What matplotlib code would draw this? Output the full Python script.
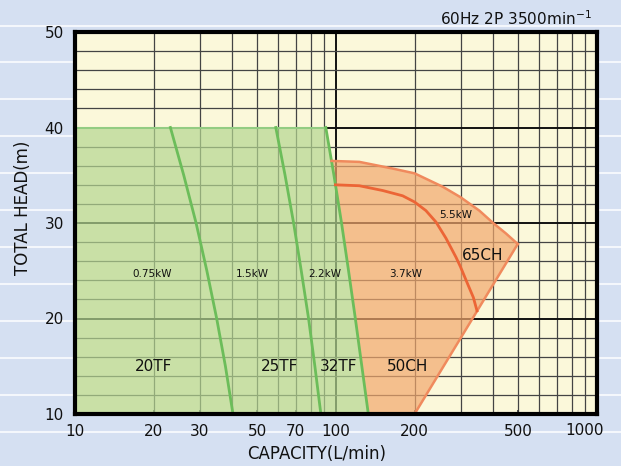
import matplotlib
matplotlib.use("Agg")
import matplotlib.pyplot as plt
from matplotlib.lines import Line2D
import numpy as np

# capacity (L/min) / total head (m)
# power boundary lines (TF series)
kw075_q = [23.2, 26.1, 29.1, 32.0, 34.9, 37.7, 40.3]
kw075_h = [40, 35, 30, 25, 20, 15, 10]
kw15_q = [58.8, 63.8, 68.8, 73.6, 78.5, 83.0, 87.5]
kw15_h = [40, 35, 30, 25, 20, 15, 10]
kw22_q = [91.4, 98.2, 105.0, 111.7, 118.6, 125.6, 133.0]
kw22_h = [40, 35, 30, 25, 20, 15, 10]

# CH series
kw55_q = [96.1, 122.9, 164.9, 200, 256.3, 300, 354, 400, 448, 497]
kw55_h = [36.5, 36.4, 35.7, 35.2, 33.8, 32.7, 31.3, 30.0, 28.9, 27.8]
ch_end_q = [497, 200]
ch_end_h = [27.8, 10]
kw37_q = [99.5, 122.9, 151, 180, 200, 221, 241.6, 263.9, 288.4, 300, 319.6, 336, 347]
kw37_h = [34.0, 33.9, 33.4, 32.85, 32.2, 31.3, 30.1, 28.4, 26.4, 25.4, 23.6, 22.2, 20.8]

tf_top_h = 40

xticks = [10, 20, 30, 50, 70, 100, 200, 500, 1000]
yticks = [10, 20, 30, 40, 50]

xgrid_minor = [20, 30, 40, 50, 60, 70, 80, 90, 200, 300, 400, 500, 600, 700, 800, 900]
xgrid_major = [100]
ygrid_minor = [12, 14, 16, 18, 22, 24, 26, 28, 32, 34, 36, 38, 42, 44, 46, 48]
ygrid_major = [20, 30, 40]

model_labels = ["20TF", "25TF", "32TF", "50CH", "65CH"]
model_pos = [(19.95, 15), (60.7, 15), (102, 15), (187.6, 15), (363.5, 26.6)]
kw_labels = ["0.75kW", "1.5kW", "2.2kW", "3.7kW", "5.5kW"]
kw_pos = [(19.8, 24.7), (48, 24.7), (90.8, 24.7), (184.3, 24.7), (287.4, 30.8)]

BG = "#d5e0f2"
fig = plt.figure(figsize=(6.21, 4.66), dpi=100, facecolor=BG)

# white stripes in the background
for k in range(12):
    yy = 1 - (25.5 + 36.95 * k) / 466
    fig.add_artist(Line2D([0, 1], [yy, yy], transform=fig.transFigure,
                          color="#f4f7fc", lw=1.5, zorder=0))

ax = fig.add_axes([75 / 621, 1 - 414 / 466, (597 - 75) / 621, (414 - 32) / 466])
ax.set_facecolor("#fbf8da")
ax.set_xscale("log")
ax.set_xlim(10, 1000)
ax.set_ylim(10, 50)

# grid
for v in xgrid_minor:
    ax.axvline(v, color="#444444", lw=0.9, zorder=1)
for v in xgrid_major:
    ax.axvline(v, color="#111111", lw=1.4, zorder=1)
for v in ygrid_minor:
    ax.axhline(v, color="#444444", lw=0.9, zorder=1)
for v in ygrid_major:
    ax.axhline(v, color="#111111", lw=1.4, zorder=1)

# green TF region
g_q = [10, 10] + kw22_q
g_h = [10, tf_top_h] + kw22_h
ax.fill(g_q, g_h, color="#b4d791", alpha=0.7, lw=0, zorder=2)
ax.plot([10, kw22_q[0]], [tf_top_h, tf_top_h], color="#93cc82", lw=1.5, zorder=3)

# orange CH region (left edge follows the 2.2kW line)
o_q = kw55_q + [ch_end_q[1]] + kw22_q[:0:-1]
o_h = kw55_h + [ch_end_h[1]] + kw22_h[:0:-1]
ax.fill(o_q, o_h, color="#f2a76d", alpha=0.7, lw=0, zorder=2)

green = "#6cbd5a"
ax.plot(kw075_q, kw075_h, color=green, lw=2, zorder=3)
ax.plot(kw15_q, kw15_h, color=green, lw=2, zorder=3)
ax.plot(kw22_q, kw22_h, color=green, lw=2, zorder=3)

ax.plot(kw55_q, kw55_h, color="#f08a5d", lw=1.8, zorder=3)
ax.plot(ch_end_q, ch_end_h, color="#f08a5d", lw=1.8, zorder=3)
ax.plot(kw37_q, kw37_h, color="#ec6536", lw=2, zorder=3)

for s, (q, h) in zip(model_labels, model_pos):
    ax.text(q, h, s, fontsize=11, ha="center", va="center", color="#111111", zorder=4)
for s, (q, h) in zip(kw_labels, kw_pos):
    ax.text(q, h, s, fontsize=7.5, ha="center", va="center", color="#111111", zorder=4)

# axes styling
for sp in ax.spines.values():
    sp.set_linewidth(3)
    sp.set_color("black")
    sp.set_zorder(5)

ax.set_xticks(xticks)
ax.set_xticklabels([str(v) for v in xticks[:-1]] + [""])
ax.xaxis.set_minor_locator(matplotlib.ticker.NullLocator())
ax.set_yticks(yticks)
ax.set_yticklabels([str(v) for v in yticks])
ax.tick_params(axis="both", direction="in", length=3, width=1.2, labelsize=11,
               colors="#333333", labelcolor="#111111")
ax.tick_params(axis="x", pad=7)
ax.tick_params(axis="y", pad=8)
ax.annotate("1000", xy=(1000, 0), xycoords=("data", "axes fraction"),
            xytext=(-12, -9), textcoords="offset pixels", ha="center", va="top",
            fontsize=11, color="#111111")

ax.set_xlabel("CAPACITY(L/min)", fontsize=12, color="#111111")
ax.xaxis.set_label_coords(0.462, -0.082)
ax.set_ylabel("TOTAL HEAD(m)", fontsize=12, color="#111111")
ax.yaxis.set_label_coords(-0.082, 0.539)

fig.text(592 / 621, 1 - 25 / 466, "60Hz 2P 3500min$^{-1}$", fontsize=11,
         ha="right", va="baseline", color="#111111")

fig.savefig("out.png", dpi=100, facecolor=BG)
